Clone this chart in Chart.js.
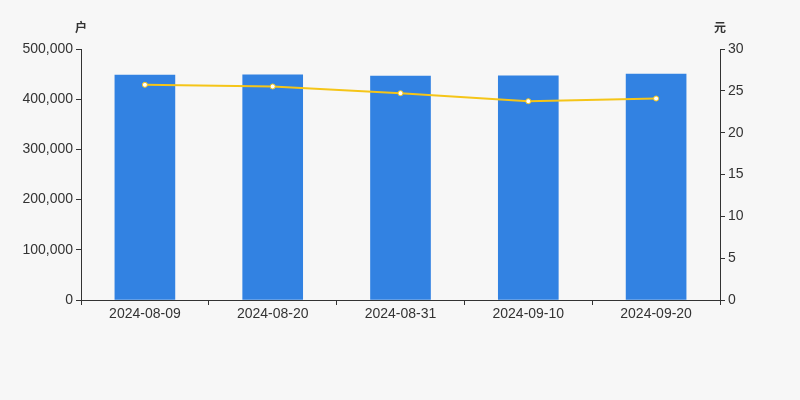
<!DOCTYPE html>
<html><head><meta charset="utf-8">
<script src="https://cdn.jsdelivr.net/npm/chart.js@4/dist/chart.umd.min.js"></script>
<style>html,body{margin:0;padding:0;background:#f7f7f7;}#wrap{width:800px;height:400px;}</style>
</head><body><div id="wrap"><canvas id="c" width="800" height="400"></canvas></div>
<script>
const categories = ['2024-08-09','2024-08-20','2024-08-31','2024-09-10','2024-09-20'];
const holders = [448000, 448600, 446200, 446600, 450000];
const avgValue = [25.72, 25.52, 24.72, 23.76, 24.08];
const leftUnit = '户';
const rightUnit = '元';

const unitPlugin = {
  id: 'units',
  afterDraw(chart) {
    const ctx = chart.ctx;
    ctx.save();
    ctx.font = 'bold 12px "Noto Sans CJK SC", sans-serif';
    ctx.fillStyle = '#333';
    ctx.textAlign = 'center';
    ctx.textBaseline = 'middle';
    ctx.fillText(leftUnit, chart.scales.y.right, 27);
    ctx.fillText(rightUnit, chart.scales.y1.left, 27);
    ctx.restore();
  }
};
const bg = {id:'bg', beforeDraw(c){const x=c.ctx;x.save();x.fillStyle='#f7f7f7';x.fillRect(0,0,c.width,c.height);x.restore();}};
const tickFont = { size: 14, family: 'Arial, "Liberation Sans", sans-serif' };

new Chart(document.getElementById('c'), {
  data: {
    labels: categories,
    datasets: [
      { type: 'line', data: avgValue, yAxisID: 'y1', borderColor: '#f5c518', backgroundColor: '#fff',
        borderWidth: 2, pointRadius: 2.5, pointBorderWidth: 1, pointBorderColor: '#f5c518', pointBackgroundColor:'#fff', tension: 0, order: 0 },
      { type: 'bar', data: holders, yAxisID: 'y', backgroundColor: '#3282e2', barThickness: 60, order: 1 }
    ]
  },
  options: {
    responsive: false, animation: false, devicePixelRatio: 1,
    layout: { padding: { left: 0, right: 0, top: 49, bottom: 70 } },
    plugins: { legend: { display: false }, tooltip: { enabled: false } },
    scales: {
      x: {
        offset: true,
        grid: { display: true, drawOnChartArea: false, drawTicks: true, tickLength: 5, color: '#333', offset: true },
        border: { display: true, color: '#333', width: 1 },
        ticks: { color: '#333', font: tickFont, padding: 1, maxRotation: 0 },
        afterFit(s){ s.height = 30; }
      },
      y: {
        position: 'left', min: 0, max: 500000,
        grid: { drawOnChartArea: false, drawTicks: true, tickLength: 5, color: '#333' },
        border: { display: true, color: '#333', width: 1 },
        ticks: { stepSize: 100000, color: '#333', font: tickFont, padding: 3,
          callback: v => v.toLocaleString('en-US') },
        afterFit(s){ s.width = 81; }
      },
      y1: {
        position: 'right', min: 0, max: 30,
        grid: { drawOnChartArea: false, drawTicks: true, tickLength: 5, color: '#333' },
        border: { display: true, color: '#333', width: 1 },
        ticks: { stepSize: 5, color: '#333', font: tickFont, padding: 3 },
        afterFit(s){ s.width = 80; }
      }
    }
  },
  plugins: [bg, unitPlugin]
});
</script></body></html>
